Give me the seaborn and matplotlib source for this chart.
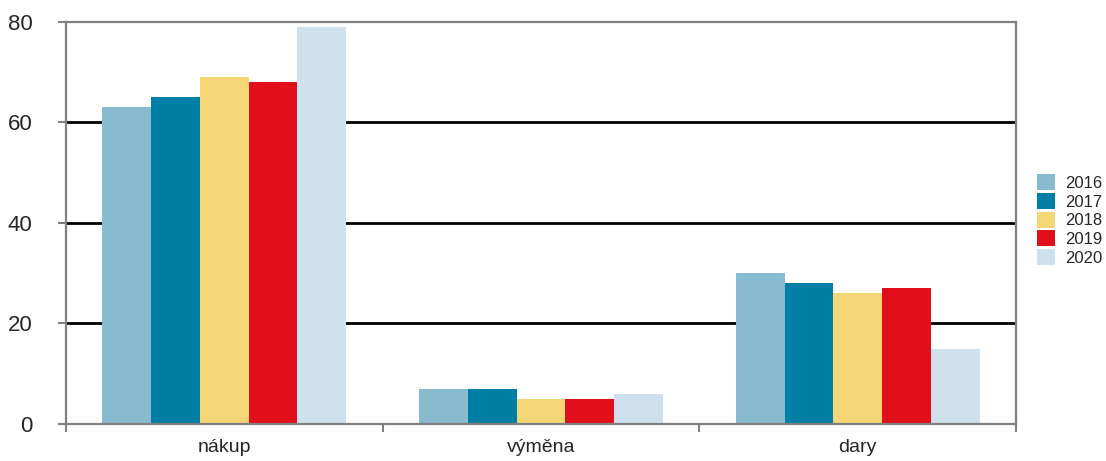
import matplotlib
matplotlib.use("Agg")
import matplotlib.pyplot as plt
import seaborn as sns
import pandas as pd

categories = ["nákup", "výměna", "dary"]
years = ["2016", "2017", "2018", "2019", "2020"]
values_2016 = [63, 7, 30]
values_2017 = [65, 7, 28]
values_2018 = [69, 5, 26]
values_2019 = [68, 5, 27]
values_2020 = [79, 6, 15]
colors = ["#88bbd0", "#007fa6", "#f4d677", "#e00f19", "#cfe1ed"]
y_ticks = [0, 20, 40, 60, 80]

series = [values_2016, values_2017, values_2018, values_2019, values_2020]
rows = []
for yr, vals in zip(years, series):
    for cat, v in zip(categories, vals):
        rows.append({"kategorie": cat, "rok": yr, "hodnota": v})
df = pd.DataFrame(rows)

sns.set_style("white")
plt.rcParams["font.family"] = ["Liberation Sans", "DejaVu Sans"]

fig = plt.figure(figsize=(11.06, 4.61), dpi=100)
ax = fig.add_axes([0.0597, 0.0803, 0.9186 - 0.0597, 0.9523 - 0.0803])

sns.barplot(data=df, x="kategorie", y="hodnota", hue="rok", order=categories,
            hue_order=years, palette=colors, width=0.77, saturation=1,
            edgecolor="none", linewidth=0, ax=ax, legend=True)

ax.set_ylim(0, 80)
ax.set_xlim(-0.5, 2.5)
ax.set_yticks(y_ticks)
ax.set_xlabel("")
ax.set_ylabel("")

for y in [20, 40, 60]:
    ax.axhline(y, color="black", lw=2, zorder=0.5)

for s in ax.spines.values():
    s.set_visible(True)
    s.set_color("#808080")
    s.set_linewidth(1.6)

ax.tick_params(axis="y", which="major", direction="out", length=6, width=1.5,
               color="#808080", labelsize=16, pad=18, left=True)
ax.tick_params(axis="x", which="major", length=0, labelsize=14, pad=11)
ax.set_xticks([-0.5, 0.5, 1.5, 2.5], minor=True)
ax.tick_params(axis="x", which="minor", direction="out", length=6, width=1.5,
               color="#808080", bottom=True)

handles, labels = ax.get_legend_handles_labels()
ax.legend(handles, labels, loc="upper left", bbox_to_anchor=(0.93, 0.64),
          bbox_transform=fig.transFigure, frameon=False, fontsize=12,
          handlelength=1.1, handleheight=1.1, labelspacing=0.12,
          handletextpad=0.6, borderpad=0)

fig.savefig("out.png", dpi=100)
